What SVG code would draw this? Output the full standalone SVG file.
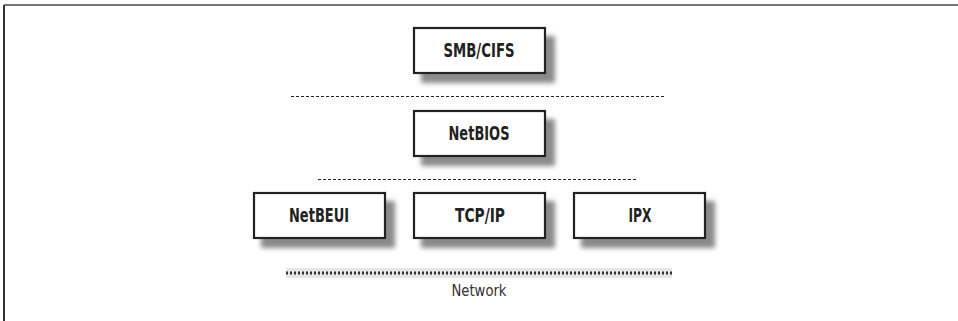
<svg xmlns="http://www.w3.org/2000/svg" width="958" height="321" viewBox="0 0 958 321">
  <style>
    .box { fill: #ffffff; stroke: #222222; stroke-width: 2.2; }
    .shadow { fill: #8a8a8a; filter: url(#blur); }
    .label { font-family: "Liberation Sans Narrow", "DejaVu Sans Condensed", "Liberation Sans", sans-serif; font-weight: bold; font-size: 19px; fill: #222222; text-anchor: middle; }
    .sep { stroke: #222222; stroke-width: 1.1; stroke-dasharray: 3 2; fill: none; }
    .net { stroke: #333333; stroke-width: 3; stroke-dasharray: 2 2; fill: none; }
    .netlabel { font-family: "Liberation Sans Narrow", "DejaVu Sans Condensed", "Liberation Sans", sans-serif; font-size: 15px; fill: #333333; text-anchor: middle; }
  </style>
  <defs>
    <filter id="blur" x="-20%" y="-20%" width="140%" height="140%">
      <feGaussianBlur stdDeviation="2.5"/>
    </filter>
  </defs>
  <rect x="0" y="0" width="958" height="321" fill="#ffffff"/>
  <g id="frame">
    <line x1="4" y1="5" x2="958" y2="5" stroke="#777777" stroke-width="2"/>
    <line x1="4" y1="5" x2="4" y2="321" stroke="#333333" stroke-width="2"/>
  </g>
  <g id="connectors">
    <line class="sep" x1="291" y1="96.5" x2="665" y2="96.5"/>
    <line class="sep" x1="318" y1="179.5" x2="637" y2="179.5"/>
    <rect x="286" y="268" width="386" height="10" fill="#e6e6e6"/>
    <line class="net" x1="286" y1="273" x2="672" y2="273"/>
  </g>
  <g id="smbcifs">
    <rect class="shadow" x="421" y="36" width="134" height="47"/>
    <rect class="box" x="414" y="28" width="131" height="45"/>
    <text class="label" x="479" y="57" textLength="71" lengthAdjust="spacingAndGlyphs">SMB/CIFS</text>
  </g>
  <g id="netbios">
    <rect class="shadow" x="421" y="119" width="134" height="47"/>
    <rect class="box" x="414" y="111" width="131" height="45"/>
    <text class="label" x="479" y="140" textLength="61" lengthAdjust="spacingAndGlyphs">NetBIOS</text>
  </g>
  <g id="netbeui">
    <rect class="shadow" x="261" y="201" width="134" height="47"/>
    <rect class="box" x="254" y="193" width="131" height="45"/>
    <text class="label" x="319" y="222" textLength="60" lengthAdjust="spacingAndGlyphs">NetBEUI</text>
  </g>
  <g id="tcpip">
    <rect class="shadow" x="421" y="201" width="134" height="47"/>
    <rect class="box" x="414" y="193" width="131" height="45"/>
    <text class="label" x="480" y="222" textLength="50" lengthAdjust="spacingAndGlyphs">TCP/IP</text>
  </g>
  <g id="ipx">
    <rect class="shadow" x="581" y="201" width="134" height="47"/>
    <rect class="box" x="574" y="193" width="131" height="45"/>
    <text class="label" x="640" y="222" textLength="23" lengthAdjust="spacingAndGlyphs">IPX</text>
  </g>
  <g id="network">
    <text class="netlabel" x="479" y="296" textLength="55" lengthAdjust="spacingAndGlyphs">Network</text>
  </g>
</svg>
